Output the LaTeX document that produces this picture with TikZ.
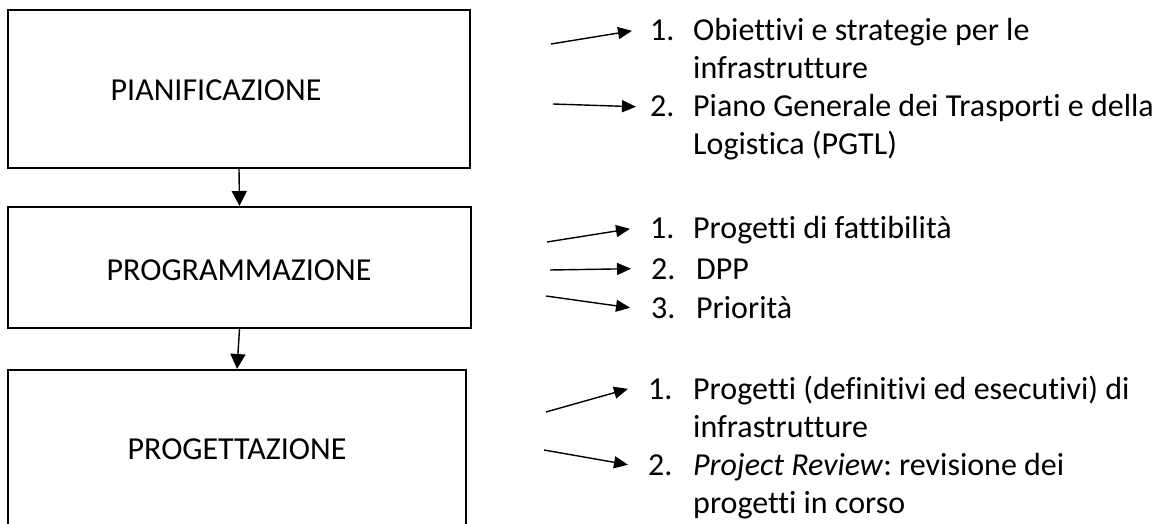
\documentclass[tikz,border=0pt]{standalone}
\usepackage{fontspec}
\setmainfont{Carlito}[Ligatures=NoCommon]
\usetikzlibrary{arrows.meta}
\frenchspacing

% several lines of text, hung from the baseline of the first one
\newcommand{\lines}[1]{\begin{tabular}[t]{@{}l@{}}#1\end{tabular}}

\begin{document}
\begin{tikzpicture}[x=1pt,y=-1pt,
  stage/.style={draw=black, line width=2pt, inner sep=0pt},
  label/.style={inner sep=0pt, font=\fontsize{32}{38}\selectfont},
  txt/.style={label, anchor=base west},
  num/.style={label, anchor=base west},
  flow/.style={line width=1.4pt, -{Triangle[length=15pt,width=15pt]}},
  feed/.style={line width=1.4pt, -{Triangle[length=14pt,width=12pt]}}
]
\useasboundingbox (0,0) rectangle (1163,524);
\clip (0,0) rectangle (1163,524);

% stage boxes (the last one runs past the bottom edge)
\node[stage, minimum width=462pt, minimum height=158pt] (b1) at (239,89) {};
\node[stage, minimum width=463pt, minimum height=121pt] (b2) at (239.5,267.5) {};
\node[stage, minimum width=458pt, minimum height=200pt] (b3) at (237,470) {};

\node[label] (l1) at (216,90) {PIANIFICAZIONE};
\node[label] (l2) at (239,270) {PROGRAMMAZIONE};
\node[label] (l3) at (237,449) {PROGETTAZIONE};

\draw[flow] (b1.south) -- (b2.north);
\draw[flow] (b2.south) -- (b3.north);

% outputs of each stage
\node[num] (n11) at (650,41) {1.};
\node[txt] (t11) at (693,41) {\lines{Obiettivi e strategie per le\\infrastrutture}};
\node[num] (n12) at (650,117) {2.};
\node[txt] (t12) at (693,117) {\lines{Piano Generale dei Trasporti e della\\Logistica (PGTL)}};

\node[num] (n21) at (650,239) {1.};
\node[txt] (t21) at (693,239) {Progetti di fattibilità};
\node[num] (n22) at (651,279) {2.};
\node[txt] (t22) at (696,279) {DPP};
\node[num] (n23) at (651,318) {3.};
\node[txt] (t23) at (696,318) {Priorità};

\node[num] (n31) at (648,399) {1.};
\node[txt] (t31) at (693,399) {\lines{Progetti (definitivi ed esecutivi) di\\infrastrutture}};
\node[num] (n32) at (648,475) {2.};
\node[txt] (t32) at (693,475) {\lines{\textit{Project Review}: revisione dei\\progetti in corso}};

% free ends of the feeding arrows
\coordinate (s11) at (551,44);
\coordinate (s12) at (553,104);
\coordinate (s21) at (547,242);
\coordinate (s22) at (550,270);
\coordinate (s23) at (546,296);
\coordinate (s31) at (546,412);
\coordinate (s32) at (544,450);

\draw[feed] (s11) -- ([xshift=-18pt]n11.west);
\draw[feed] (s12) -- ([xshift=-14pt]n12.west);
\draw[feed] (s21) -- ([xshift=-20pt]n21.west);
\draw[feed] (s22) -- ([xshift=-20pt]n22.west);
\draw[feed] (s23) -- ([xshift=-21pt]n23.west);
\draw[feed] (s31) -- ([xshift=-20pt]n31.west);
\draw[feed] (s32) -- ([xshift=-20pt]n32.west);
\end{tikzpicture}
\end{document}
